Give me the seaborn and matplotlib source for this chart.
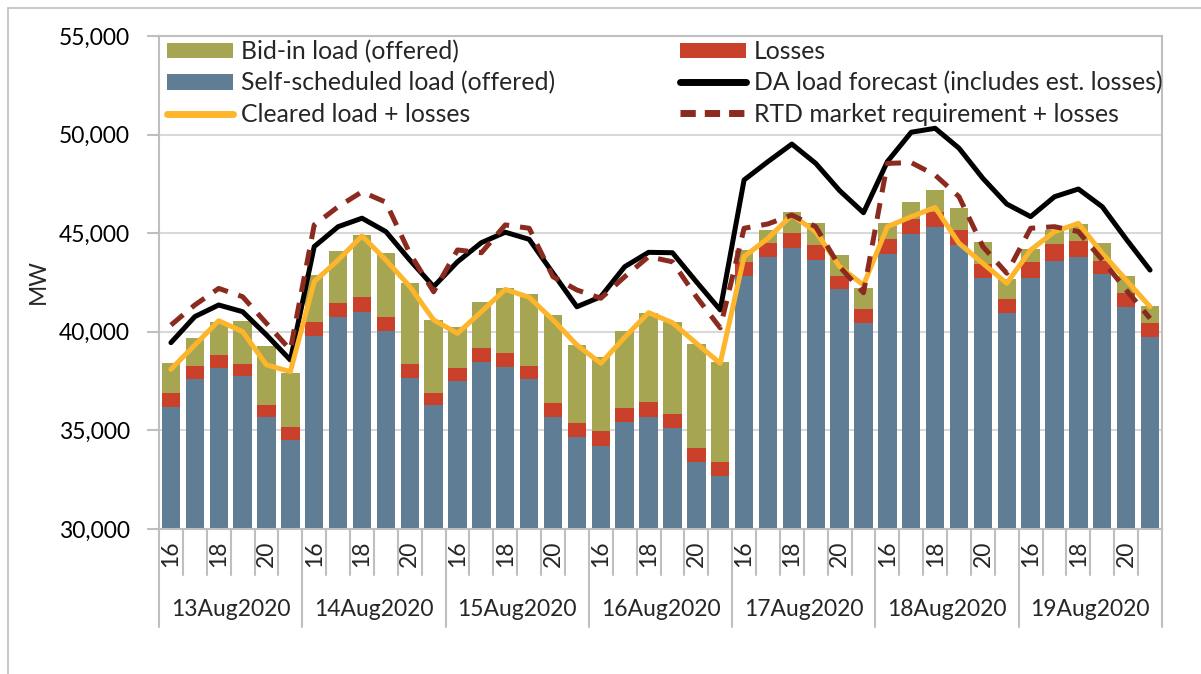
import numpy as np
import pandas as pd
import seaborn as sns
import matplotlib.pyplot as plt
import matplotlib.transforms as mtransforms
from matplotlib.ticker import FuncFormatter, MultipleLocator
from matplotlib.patches import Patch
from matplotlib.lines import Line2D

# ---------------- data ----------------
days = ["13Aug2020", "14Aug2020", "15Aug2020", "16Aug2020",
        "17Aug2020", "18Aug2020", "19Aug2020"]
hours = [16, 17, 18, 19, 20, 21]

self_scheduled = [36200, 37600, 38150, 37740, 35680, 34530,
                  39800, 40750, 41020, 40040, 37670, 36270,
                  37510, 38470, 38210, 37610, 35680, 34650,
                  34220, 35440, 35700, 35140, 33410, 32700,
                  42830, 43790, 44250, 43640, 42150, 40450,
                  43930, 44960, 45300, 44400, 42710, 40970,
                  42710, 43590, 43810, 42910, 41240, 39740]

losses = [700, 670, 670, 640, 590, 630,
          710, 710, 730, 700, 680, 630,
          670, 690, 700, 670, 690, 740,
          750, 700, 760, 690, 710, 700,
          690, 730, 780, 760, 700, 710,
          790, 780, 780, 780, 740, 710,
          850, 860, 780, 680, 710, 720]

bid_in = [1530, 1430, 1680, 2180, 3030, 2750,
          2370, 2650, 3160, 3240, 4130, 3700,
          2080, 2350, 3310, 3650, 4480, 3940,
          3770, 3920, 4480, 4670, 5260, 5050,
          630, 630, 1030, 1120, 1040, 1080,
          810, 860, 1090, 1100, 1100, 980,
          650, 710, 880, 900, 880, 830]

da_forecast = [39450, 40770, 41360, 41020, 39840, 38570,
               44320, 45330, 45760, 45080, 43640, 42290,
               43550, 44520, 45050, 44690, 42970, 41270,
               41780, 43300, 44030, 44010, 42540, 41110,
               47700, 48630, 49520, 48540, 47160, 46040,
               48630, 50120, 50320, 49310, 47780, 46480,
               45840, 46850, 47240, 46340, 44700, 43130]

cleared = [38100, 39330, 40560, 40010, 38320, 37980,
           42540, 43640, 44860, 43640, 42300, 40600,
           39920, 41020, 42150, 41750, 40600, 39330,
           38400, 39720, 40970, 40460, 39420, 38400,
           43810, 44740, 45920, 45080, 43300, 42370,
           45330, 45840, 46310, 44490, 43470, 42460,
           44150, 45080, 45500, 43980, 42630, 41270]

rtd = [40340, 41360, 42200, 41780, 40430, 39080,
       45420, 46340, 47100, 46570, 43980, 42030,
       44150, 44010, 45420, 45250, 42790, 42120,
       41700, 42790, 43810, 43550, 41780, 40200,
       45250, 45470, 45920, 45330, 43300, 41980,
       48540, 48580, 47950, 46850, 44320, 42970,
       45250, 45330, 45080, 43640, 42120, 40680]

labels = ["Bid-in load (offered)", "Self-scheduled load (offered)",
          "Cleared load + losses", "Losses",
          "DA load forecast (includes est. losses)",
          "RTD market requirement + losses"]

# ---------------- style ----------------
OLIVE = "#A5A552"
BLUE = "#5F7D95"
RED = "#C9412A"
ORANGE = "#FDB52B"
BLACK = "#000000"
RTDC = "#8B2A1E"
GRID = "#D9D9D9"
AXC = "#BFBFBF"

sns.set_theme(style="white")
plt.rcParams['font.family'] = ['Lato', 'DejaVu Sans']

n = len(self_scheduled)
df = pd.DataFrame({
    "pos": np.arange(n),
    "self": self_scheduled,
    "loss": losses,
    "bid": bid_in,
    "da": da_forecast,
    "cleared": cleared,
    "rtd": rtd,
})
df["self_loss"] = df["self"] + df["loss"]
df["total"] = df["self_loss"] + df["bid"]

fig = plt.figure(figsize=(12.01, 6.74), dpi=100)
L, R, T, B = 159, 1162, 36, 529
ax = fig.add_axes([L / 1201, 1 - B / 674, (R - L) / 1201, (B - T) / 674])

for col, c in [("total", OLIVE), ("self_loss", RED), ("self", BLUE)]:
    sns.barplot(data=df, x="pos", y=col, color=c, saturation=1, width=0.77,
                errorbar=None, ax=ax, linewidth=0, zorder=2)

sns.lineplot(data=df, x="pos", y="da", color=BLACK, lw=3.6, ax=ax, zorder=4)
sns.lineplot(data=df, x="pos", y="cleared", color=ORANGE, lw=3.6, ax=ax, zorder=5)
sns.lineplot(data=df, x="pos", y="rtd", color=RTDC, lw=3.6, ax=ax, zorder=6)
ax.lines[-1].set_linestyle((0, (3.2, 2.2)))
ax.lines[-1].set_dash_capstyle("butt")

ax.set_ylim(30000, 55000)
ax.set_xlim(-0.5, n - 0.5)
ax.yaxis.set_major_locator(MultipleLocator(5000))
ax.yaxis.set_major_formatter(FuncFormatter(lambda v, p: f"{int(v):,}"))
ax.set_xticks([])
ax.set_xlabel("")
ax.set_ylabel("")
ax.yaxis.grid(True, color=GRID, lw=1.5)
ax.set_axisbelow(True)
for s in ax.spines.values():
    s.set_color(AXC)
    s.set_linewidth(1.5)
ax.tick_params(axis="y", left=True, length=9, width=1.5, color=AXC,
               labelsize=16.5, pad=12, labelcolor="black")

# category separators and labels
trans = mtransforms.blended_transform_factory(ax.transData, ax.transAxes)
for i in range(n + 1):
    ybot = -0.199 if i % 6 == 0 else -0.093
    ax.plot([i - 0.5, i - 0.5], [0, ybot], transform=trans, color=AXC,
            lw=1.5, clip_on=False, zorder=1)
for d, day in enumerate(days):
    for k, h in enumerate(hours):
        if h in (16, 18, 20):
            ax.text(d * 6 + k, -0.024, str(h), transform=trans, rotation=90,
                    ha="center", va="top", fontsize=16.5)
    ax.text(d * 6 + 2.5, -0.163, day, transform=trans, ha="center",
            va="center", fontsize=16.5)

fig.text(38 / 1201, 1 - 282 / 674, "MW", rotation=90, ha="center",
         va="center", fontsize=16.5)

# outer border
fig.add_artist(Line2D([7.5 / 1201, 7.5 / 1201], [0, 1 - 7.5 / 674],
                      transform=fig.transFigure, color=AXC, lw=1.2))
fig.add_artist(Line2D([7.5 / 1201, 1], [1 - 7.5 / 674, 1 - 7.5 / 674],
                      transform=fig.transFigure, color=AXC, lw=1.2))

# legends
h1 = [Patch(facecolor=OLIVE, edgecolor="none"),
      Patch(facecolor=BLUE, edgecolor="none"),
      Line2D([], [], color=ORANGE, lw=5)]
h2 = [Patch(facecolor=RED, edgecolor="none"),
      Line2D([], [], color=BLACK, lw=5),
      Line2D([], [], color=RTDC, lw=5, linestyle=(0, (2.2, 1.3)))]
common = dict(loc="upper left", frameon=False, fontsize=17.8,
              handlelength=2.65, handleheight=0.58, labelspacing=0.33,
              handletextpad=0.33, borderpad=0, borderaxespad=0)
leg1 = ax.legend(h1, labels[:3], bbox_to_anchor=((167 - L) / (R - L), 0.992),
                 **common)
ax.add_artist(leg1)
leg2 = ax.legend(h2, labels[3:], bbox_to_anchor=((680 - L) / (R - L), 0.992),
                 **common)

fig.savefig("out.png", dpi=100)
